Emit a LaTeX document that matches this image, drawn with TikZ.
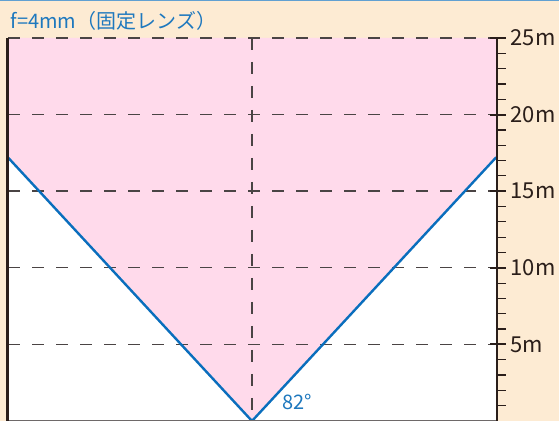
\documentclass[tikz,border=0pt]{standalone}
\usepackage{fontspec}
\setmainfont{Noto Sans CJK JP}

\definecolor{bgbeige}{HTML}{FDEBD3}
\definecolor{fovpink}{HTML}{FFDAEB}
\definecolor{lineblue}{HTML}{0A6EBD}
\definecolor{textblue}{HTML}{1E78BE}
\definecolor{axisdark}{HTML}{2A1E1A}
\definecolor{gridgray}{HTML}{4A4444}

\tikzset{
    gridline/.style={draw=gridgray, line width=1.4pt, dash pattern=on 12pt off 12pt},
    fovline/.style={draw=lineblue, line width=2.4pt, line cap=round},
    distlabel/.style={anchor=west, inner sep=0pt, text=axisdark, font=\fontsize{22}{26}\selectfont},
}

\begin{document}
\begin{tikzpicture}[x=1pt, y=15.32pt]

    % Frame
    \useasboundingbox (0,0) rectangle (559,27.48);
    \fill[bgbeige] (0,0) rectangle (559,27.48);
    \draw[color=textblue!70, line width=1pt] (0,27.46) -- (559,27.46);

    % Points
    \coordinate (apex) at (252,0);
    \coordinate (leftend) at (8,17.2);
    \coordinate (rightend) at (496,17.2);

    % Areas
    \fill[white] (8,0) rectangle (496,25);
    \fill[fovpink] (8,25) -- (496,25) -- (rightend) -- (apex) -- (leftend) -- cycle;

    % Grid
    \foreach \d in {5,10,...,25}
        \draw[gridline] (8,\d) -- (496,\d);
    \draw[gridline] (252,25) -- (apex);

    % View lines
    \draw[fovline] (leftend) -- (apex) -- (rightend);

    % Axes
    \draw[draw=gridgray!80, line width=2pt] (8,0.03) -- (497,0.03);
    \draw[draw=axisdark, line width=3pt] (7,0) -- (7,25);
    \draw[draw=axisdark, line width=2.4pt] (497,0) -- (497,25);
    \foreach \d in {1,...,24}
        \draw[draw=axisdark, line width=1.2pt] (497,\d) -- (506,\d);
    \foreach \d in {5,10,...,25} {
        \draw[draw=axisdark, line width=2pt] (490,\d) -- (506,\d);
        \node (lbl\d) [distlabel] at (510.5,\d) {\d m};
    }

    % Texts
    \node (title) [anchor=base west, inner sep=0pt, text=textblue, font=\fontsize{20}{24}\selectfont] at (10.5,25.65) {f=4mm（固定レンズ）};
    \node (angle) [anchor=west, inner sep=0pt, text=textblue, font=\fontsize{20}{24}\selectfont] at (282,1.24) {82°};

\end{tikzpicture}
\end{document}
